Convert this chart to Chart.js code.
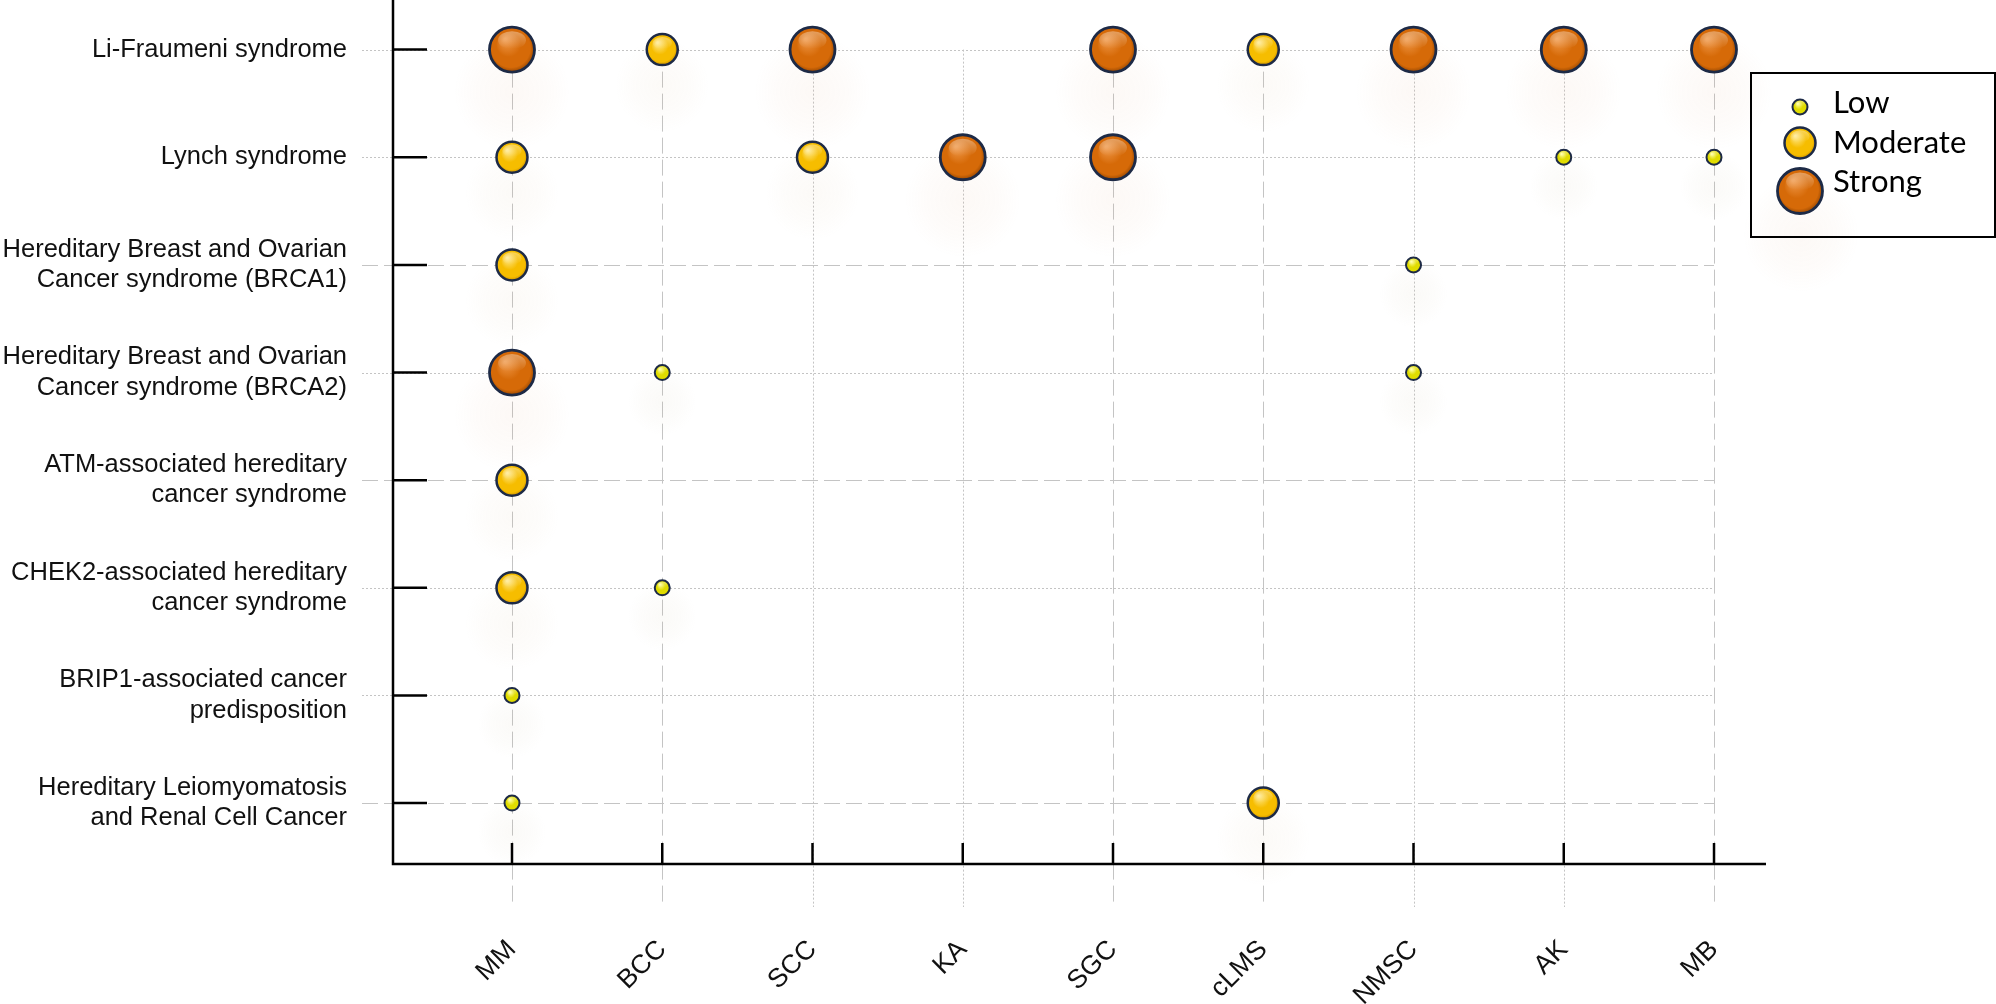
<!DOCTYPE html>
<html>
<head>
<meta charset="utf-8">
<script src="https://cdn.jsdelivr.net/npm/chart.js@4.4.1/dist/chart.umd.min.js"></script>
<style>
  html, body { margin: 0; padding: 0; background: #ffffff; overflow: hidden; }
  #wrap { position: relative; width: 1996px; height: 1004px; }
  canvas { display: block; }
</style>
</head>
<body>
<div id="wrap"><canvas id="chart"></canvas></div>
<script>
// ---------------- DATA ----------------
const cancers = ['MM', 'BCC', 'SCC', 'KA', 'SGC', 'cLMS', 'NMSC', 'AK', 'MB'];
const syndromes = [
  'Li-Fraumeni syndrome',
  'Lynch syndrome',
  ['Hereditary Breast and Ovarian', 'Cancer syndrome (BRCA1)'],
  ['Hereditary Breast and Ovarian', 'Cancer syndrome (BRCA2)'],
  ['ATM-associated hereditary', 'cancer syndrome'],
  ['CHEK2-associated hereditary', 'cancer syndrome'],
  ['BRIP1-associated cancer', 'predisposition'],
  ['Hereditary Leiomyomatosis', 'and Renal Cell Cancer']
];
const levelNames = ['Low', 'Moderate', 'Strong'];
// association level per cancer column: 0 = none, 1 = Low, 2 = Moderate, 3 = Strong
const liFraumeni = [3, 2, 3, 0, 3, 2, 3, 3, 3];
const lynch      = [2, 0, 2, 3, 3, 0, 0, 1, 1];
const hboc1      = [2, 0, 0, 0, 0, 0, 1, 0, 0];
const hboc2      = [3, 1, 0, 0, 0, 0, 1, 0, 0];
const atm        = [2, 0, 0, 0, 0, 0, 0, 0, 0];
const chek2      = [2, 1, 0, 0, 0, 0, 0, 0, 0];
const brip1      = [1, 0, 0, 0, 0, 0, 0, 0, 0];
const hlrcc      = [1, 0, 0, 0, 0, 2, 0, 0, 0];
const rows = [liFraumeni, lynch, hboc1, hboc2, atm, chek2, brip1, hlrcc];

// ---------------- STYLE ----------------
const FONT = "'Liberation Sans', Arial, Helvetica, sans-serif";
const LEGEND_FONT = "Lato, 'Open Sans', sans-serif";
const RADIUS = { 1: 7.5, 2: 15.5, 3: 22.5 };
const BORDER_W = { 1: 2, 2: 2.5, 3: 2.8 };
const PALETTE = {
  1: { light: '#ffff9c', base: '#e0dc00', dark: '#8f8a00' },
  2: { light: '#ffe88a', base: '#f6bd00', dark: '#b97f00' },
  3: { light: '#ee9646', base: '#d66a08', dark: '#8a4000' }
};
const HALO = { 1: 'rgba(185,170,130,', 2: 'rgba(205,170,120,', 3: 'rgba(215,145,95,' };
const BALL_EDGE = '#1d2a46';
const GRID_COLOR = '#c4c4c4';
const ROW_DASH = ['dot', 'dot', 'dash', 'dot', 'dash', 'dot', 'dot', 'dash'];
const COL_DASH = ['dash', 'dash', 'dot', 'dot', 'dash', 'dash', 'dot', 'dot', 'dash'];
const DASHES = { dot: [2, 2], dash: [16, 6] };

// ---------------- DATASETS ----------------
function ballGradient(ctx, px, py, r, lvl) {
  const pal = PALETTE[lvl];
  const g = ctx.createRadialGradient(px - r * 0.3, py - r * 0.45, r * 0.05, px, py, r * 1.05);
  g.addColorStop(0, pal.light);
  g.addColorStop(0.5, pal.base);
  g.addColorStop(0.82, pal.base);
  g.addColorStop(1, pal.dark);
  return g;
}
function scriptFill(lvl) {
  return (c) => {
    const pal = PALETTE[lvl];
    if (c.type !== 'data' || !c.raw) return pal.base;
    const ch = c.chart, xs = ch.scales.x, ys = ch.scales.y;
    if (!xs || !ys) return pal.base;
    const px = xs.getPixelForValue(c.raw.x), py = ys.getPixelForValue(c.raw.y);
    if (!isFinite(px) || !isFinite(py)) return pal.base;
    return ballGradient(ch.ctx, px, py, RADIUS[lvl], lvl);
  };
}
const datasets = [1, 2, 3].map(lvl => {
  const pts = [];
  rows.forEach((row, i) => row.forEach((v, j) => { if (v === lvl) pts.push({ x: j + 1, y: i + 1 }); }));
  return {
    label: levelNames[lvl - 1],
    level: lvl,
    data: pts,
    radius: RADIUS[lvl],
    backgroundColor: scriptFill(lvl),
    borderColor: BALL_EDGE,
    borderWidth: BORDER_W[lvl],
    hoverRadius: 0,
    hoverBorderWidth: BORDER_W[lvl]
  };
});

// ---------------- PLUGIN: grid, halos, axes, gloss, legend ----------------
function drawHalo(ctx, x, y, r, lvl) {
  const cy = y + r * 0.9 + 22;
  const R = r * 1.6 + 22;
  const g = ctx.createRadialGradient(x, cy, 0, x, cy, R);
  g.addColorStop(0, HALO[lvl] + '0.06)');
  g.addColorStop(0.6, HALO[lvl] + '0.03)');
  g.addColorStop(1, HALO[lvl] + '0)');
  ctx.fillStyle = g;
  ctx.beginPath(); ctx.arc(x, cy, R, 0, Math.PI * 2); ctx.fill();
}
function drawGloss(ctx, x, y, r) {
  const g = ctx.createLinearGradient(0, y - r * 0.85, 0, y - r * 0.05);
  g.addColorStop(0, 'rgba(255,255,255,0.38)');
  g.addColorStop(1, 'rgba(255,255,255,0)');
  ctx.fillStyle = g;
  ctx.beginPath();
  ctx.ellipse(x, y - r * 0.42, r * 0.62, r * 0.4, 0, 0, Math.PI * 2);
  ctx.fill();
}
function drawBall(ctx, x, y, lvl) {
  const r = RADIUS[lvl];
  ctx.beginPath(); ctx.arc(x, y, r, 0, Math.PI * 2);
  ctx.fillStyle = ballGradient(ctx, x, y, r, lvl);
  ctx.fill();
  ctx.lineWidth = BORDER_W[lvl]; ctx.strokeStyle = BALL_EDGE; ctx.stroke();
  drawGloss(ctx, x, y, r);
}

const decor = {
  id: 'decor',
  beforeDatasetsDraw(chart) {
    const { ctx, chartArea: a, scales: { x, y } } = chart;
    ctx.save();
    // grid lines
    ctx.lineWidth = 1;
    ctx.strokeStyle = GRID_COLOR;
    const xEnd = x.getPixelForValue(cancers.length);
    const yStart = y.getPixelForValue(1);
    syndromes.forEach((_, i) => {
      const py = Math.round(y.getPixelForValue(i + 1)) + 0.5;
      ctx.setLineDash(DASHES[ROW_DASH[i]]);
      ctx.beginPath(); ctx.moveTo(a.left - 31, py); ctx.lineTo(xEnd, py); ctx.stroke();
    });
    cancers.forEach((_, j) => {
      const px = Math.round(x.getPixelForValue(j + 1)) + 0.5;
      ctx.setLineDash(DASHES[COL_DASH[j]]);
      ctx.beginPath(); ctx.moveTo(px, yStart); ctx.lineTo(px, a.bottom + 43); ctx.stroke();
    });
    ctx.setLineDash([]);
    // halos under bubbles
    chart.data.datasets.forEach((ds, di) => {
      chart.getDatasetMeta(di).data.forEach(el => drawHalo(ctx, el.x, el.y, RADIUS[ds.level], ds.level));
    });
    // axes
    ctx.strokeStyle = '#000';
    ctx.lineWidth = 2.5;
    ctx.beginPath();
    ctx.moveTo(a.left, 0); ctx.lineTo(a.left, a.bottom); ctx.lineTo(a.right, a.bottom);
    ctx.stroke();
    // inner tick marks
    syndromes.forEach((_, i) => {
      const py = y.getPixelForValue(i + 1);
      ctx.beginPath(); ctx.moveTo(a.left, py); ctx.lineTo(a.left + 34, py); ctx.stroke();
    });
    cancers.forEach((_, j) => {
      const px = x.getPixelForValue(j + 1);
      ctx.beginPath(); ctx.moveTo(px, a.bottom); ctx.lineTo(px, a.bottom - 21); ctx.stroke();
    });
    ctx.restore();
  },
  afterDatasetsDraw(chart) {
    const { ctx } = chart;
    ctx.save();
    chart.data.datasets.forEach((ds, di) => {
      chart.getDatasetMeta(di).data.forEach(el => drawGloss(ctx, el.x, el.y, RADIUS[ds.level]));
    });
    // legend
    const L = { left: 1751, top: 73, right: 1995, bottom: 237 };
    drawHalo(ctx, 1801, 192, RADIUS[3], 3);
    ctx.lineWidth = 2;
    ctx.strokeStyle = '#000';
    ctx.strokeRect(L.left, L.top, L.right - L.left, L.bottom - L.top);
    const ballY = [107, 143, 191];
    const textBase = [113, 153, 192];
    ctx.font = '31px ' + LEGEND_FONT;
    ctx.textAlign = 'left';
    ctx.textBaseline = 'alphabetic';
    chart.data.datasets.forEach((ds, i) => {
      drawBall(ctx, 1800, ballY[i], ds.level);
      ctx.fillStyle = '#000';
      ctx.fillText(ds.label, 1833, textBase[i]);
    });
    ctx.restore();
  }
};

// ---------------- CHART ----------------
new Chart(document.getElementById('chart'), {
  type: 'bubble',
  data: { datasets },
  options: {
    responsive: true,
    maintainAspectRatio: false,
    animation: false,
    events: [],
    layout: { padding: { left: 0, top: 0, bottom: 0, right: 230 }, autoPadding: false },
    plugins: { legend: { display: false }, tooltip: { enabled: false } },
    scales: {
      x: {
        type: 'linear',
        min: 0.208, max: 9.346,
        bounds: 'data',
        afterBuildTicks: s => { s.ticks = cancers.map((_, j) => ({ value: j + 1 })); },
        afterFit: s => { s.height = 140; s.paddingLeft = 0; s.paddingRight = 0; s.paddingTop = 0; s.paddingBottom = 0; },
        grid: { display: false, drawTicks: false },
        border: { display: false },
        ticks: {
          autoSkip: false,
          minRotation: 45, maxRotation: 45,
          padding: 70,
          color: '#111',
          font: { family: FONT, size: 26.5 },
          callback: v => cancers[v - 1]
        }
      },
      y: {
        type: 'linear',
        reverse: true,
        min: 0.539, max: 8.566,
        bounds: 'data',
        afterBuildTicks: s => { s.ticks = syndromes.map((_, i) => ({ value: i + 1 })); },
        afterFit: s => { s.width = 393; s.paddingTop = 0; s.paddingBottom = 0; s.paddingLeft = 0; s.paddingRight = 0; },
        grid: { display: false, drawTicks: false },
        border: { display: false },
        ticks: {
          autoSkip: false,
          padding: 46,
          color: '#111',
          font: { family: FONT, size: 25.5, lineHeight: 1.2 },
          callback: v => syndromes[v - 1]
        }
      }
    }
  },
  plugins: [decor]
});
</script>
</body>
</html>
